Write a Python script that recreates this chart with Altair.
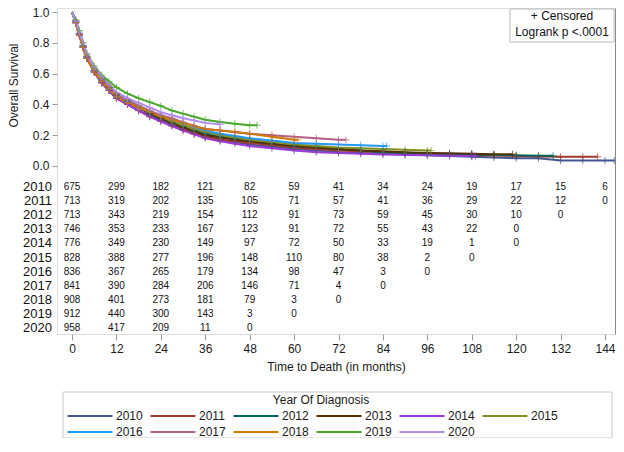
import altair as alt
import pandas as pd

years = ["2010", "2011", "2012", "2013", "2014", "2015", "2016", "2017", "2018", "2019", "2020"]
colors = ["#445694", "#A23A2E", "#01665E", "#543005", "#9D3CDB", "#7F8E1F",
          "#2597FA", "#B26084", "#D17800", "#47A82A", "#B38EF3"]

months = [0, 1, 2, 3, 4, 6, 8, 10, 12, 15, 18, 21, 24, 27, 30, 33, 36, 40, 44, 48, 54,
          60, 66, 72, 78, 84, 90, 96, 102, 108, 114, 120, 126, 132, 138, 144]

surv_2010 = [1, .93, .85, .77, .70, .61, .54, .49, .44, .40, .36, .33, .30, .27, .24, .215, .19, .17, .155, .14, .125,
             .11, .10, .09, .085, .08, .075, .07, .065, .06, .055, .05, .05, .035, .035, .035]
surv_2011 = [1, .93, .85, .77, .70, .61, .54, .49, .44, .40, .36, .32, .29, .26, .235, .21, .19, .17, .16, .15, .135,
             .12, .11, .10, .095, .09, .085, .08, .075, .07, .068, .065, .062, .06, .06]
surv_2012 = [1, .94, .86, .78, .71, .62, .56, .51, .46, .42, .38, .34, .31, .28, .255, .23, .21, .19, .175, .16, .145,
             .13, .12, .11, .10, .09, .085, .08, .078, .075, .072, .07, .066]
surv_2013 = [1, .94, .86, .78, .71, .62, .56, .51, .46, .42, .38, .34, .31, .28, .25, .225, .20, .185, .17, .16, .145,
             .13, .12, .11, .10, .095, .09, .085, .082, .08, .077]
surv_2014 = [1, .93, .85, .77, .70, .61, .54, .49, .44, .40, .36, .32, .29, .26, .23, .205, .18, .16, .145, .13, .115,
             .10, .09, .085, .08, .075, .072, .07, .067, .065]
surv_2015 = [1, .94, .86, .78, .72, .63, .57, .52, .47, .43, .39, .355, .32, .29, .265, .24, .22, .20, .185, .17, .155,
             .14, .13, .12, .115, .11, .105, .10]
surv_2016 = [1, .94, .86, .78, .71, .62, .56, .50, .45, .42, .38, .35, .33, .30, .28, .255, .23, .21, .195, .18, .165,
             .15, .145, .14, .135, .13]
surv_2017 = [1, .94, .86, .78, .71, .62, .56, .51, .46, .43, .39, .36, .33, .31, .285, .26, .24, .23, .22, .21, .20,
             .19, .18, .17]
surv_2018 = [1, .93, .85, .77, .70, .61, .55, .50, .45, .41, .38, .35, .32, .30, .28, .26, .24, .23, .22, .21, .19,
             .17]
surv_2019 = [1, .95, .88, .80, .73, .65, .59, .55, .51, .47, .44, .415, .39, .36, .34, .32, .30, .285, .275, .265]
surv_2020 = [1, .94, .87, .80, .73, .64, .58, .53, .48, .44, .41, .38, .35, .33, .31, .295, .28, .27]

last_month = [146.5, 142, 130, 119, 109, 97, 85, 74, 61, 50, 40]

risk_months = [0, 12, 24, 36, 48, 60, 72, 84, 96, 108, 120, 132, 144]
risk_2010 = [675, 299, 182, 121, 82, 59, 41, 34, 24, 19, 17, 15, 6]
risk_2011 = [713, 319, 202, 135, 105, 71, 57, 41, 36, 29, 22, 12, 0]
risk_2012 = [713, 343, 219, 154, 112, 91, 73, 59, 45, 30, 10, 0]
risk_2013 = [746, 353, 233, 167, 123, 91, 72, 55, 43, 22, 0]
risk_2014 = [776, 349, 230, 149, 97, 72, 50, 33, 19, 1, 0]
risk_2015 = [828, 388, 277, 196, 148, 110, 80, 38, 2, 0]
risk_2016 = [836, 367, 265, 179, 134, 98, 47, 3, 0]
risk_2017 = [841, 390, 284, 206, 146, 71, 4, 0]
risk_2018 = [908, 401, 273, 181, 79, 3, 0]
risk_2019 = [912, 440, 300, 143, 3, 0]
risk_2020 = [958, 417, 209, 11, 0]

survs = [surv_2010, surv_2011, surv_2012, surv_2013, surv_2014, surv_2015,
         surv_2016, surv_2017, surv_2018, surv_2019, surv_2020]
risks = [risk_2010, risk_2011, risk_2012, risk_2013, risk_2014, risk_2015,
         risk_2016, risk_2017, risk_2018, risk_2019, risk_2020]

curve_rows, risk_rows = [], []
for y, s, lm in zip(years, survs, last_month):
    for m, v in zip(months, s):
        curve_rows.append({"year": y, "month": m, "surv": v})
    curve_rows.append({"year": y, "month": lm, "surv": s[-1]})
for y, r in zip(years, risks):
    for m, n in zip(risk_months, r):
        risk_rows.append({"year": y, "month": m, "n": n})
curve_df = pd.DataFrame(curve_rows)
censor_df = curve_df[curve_df["month"] > 0]
risk_df = pd.DataFrame(risk_rows)
note_df = pd.DataFrame({"txt": ["+ Censored\nLogrank p <.0001"]})

FONT = "Liberation Sans"
GRAY = "#9c9c9c"
TXT = "#1a1a1a"

xscale = alt.Scale(domain=[-4.053, 146.70], nice=False, zero=False)
yscale = alt.Scale(domain=[-1.091, 1.026], nice=False, zero=False)
xaxis = alt.Axis(values=risk_months, title="Time to Death (in months)", grid=False, domain=False,
                 tickColor=GRAY, tickSize=6, labelFontSize=12, labelPadding=3, titleFontSize=12,
                 titleFontWeight="normal", titlePadding=7, labelColor=TXT, titleColor=TXT)
yaxis = alt.Axis(values=[0, 0.2, 0.4, 0.6, 0.8, 1.0], format=".1f", title="Overall Survival", grid=False,
                 domain=False, tickColor=GRAY, tickSize=5, labelFontSize=12, labelPadding=3,
                 titleFontSize=12, titleFontWeight="normal", titleY=77, titleX=-37,
                 labelColor=TXT, titleColor=TXT)
cscale = alt.Scale(domain=years, range=colors)
legend = alt.Legend(orient="none", legendX=27, legendY=387, columns=6, direction="horizontal",
                    symbolType="M-5,0H5", symbolSize=81, symbolStrokeWidth=2,
                    title="Year Of Diagnosis", titleAnchor="middle",
                    titleFontWeight="normal", titleFontSize=12, labelFontSize=12, columnPadding=3,
                    rowPadding=4, labelOffset=20, titlePadding=3, labelColor=TXT, titleColor=TXT)

lines = alt.Chart(curve_df).mark_line(strokeWidth=2).encode(
    x=alt.X("month:Q", scale=xscale, axis=xaxis),
    y=alt.Y("surv:Q", scale=yscale, axis=yaxis),
    color=alt.Color("year:N", scale=cscale, legend=legend),
)
censor = alt.Chart(censor_df).mark_point(shape="M-1,0H1M0,-1V1", size=50, filled=False,
                                         strokeWidth=1).encode(
    x=alt.X("month:Q", scale=xscale),
    y=alt.Y("surv:Q", scale=yscale),
    color=alt.Color("year:N", scale=cscale, legend=None),
)
risk_y = alt.Y("year:N", scale=alt.Scale(type="point", domain=years, range=[179, 320], padding=0), axis=None)
table = alt.Chart(risk_df).mark_text(fontSize=10, font=FONT, color="#111").encode(
    x=alt.X("month:Q", scale=xscale), y=risk_y, text="n:Q")
ylabels = alt.Chart(pd.DataFrame({"year": years})).mark_text(
    fontSize=13, font=FONT, align="right", color="#111").encode(
    x=alt.value(-5), y=risk_y, text="year:N")
box = alt.Chart(note_df).mark_rect(fill="white", stroke="#bbbbbb", strokeWidth=1).encode(
    x=alt.value(453), x2=alt.value(557), y=alt.value(1), y2=alt.value(34))
note = alt.Chart(note_df).mark_text(fontSize=12, font=FONT, lineBreak="\n", lineHeight=16,
                                     baseline="top", align="center", color="#111").encode(
    x=alt.value(505), y=alt.value(3), text="txt:N")
legbox = alt.Chart(note_df).mark_rect(fill=None, stroke="#c8c8c8", strokeWidth=1).encode(
    x=alt.value(6), x2=alt.value(555), y=alt.value(384), y2=alt.value(430))

chart = alt.layer(lines, censor, table, ylabels, box, note, legbox).resolve_scale(
    y="independent").properties(
    width=558, height=326,
    autosize=alt.AutoSizeParams(type="none"),
    padding={"left": 49, "top": 0, "right": 1, "bottom": 104},
).configure_view(stroke=GRAY, strokeWidth=1).configure(font=FONT)

chart.save("out.html", embed_options={"renderer": "svg", "actions": False})
